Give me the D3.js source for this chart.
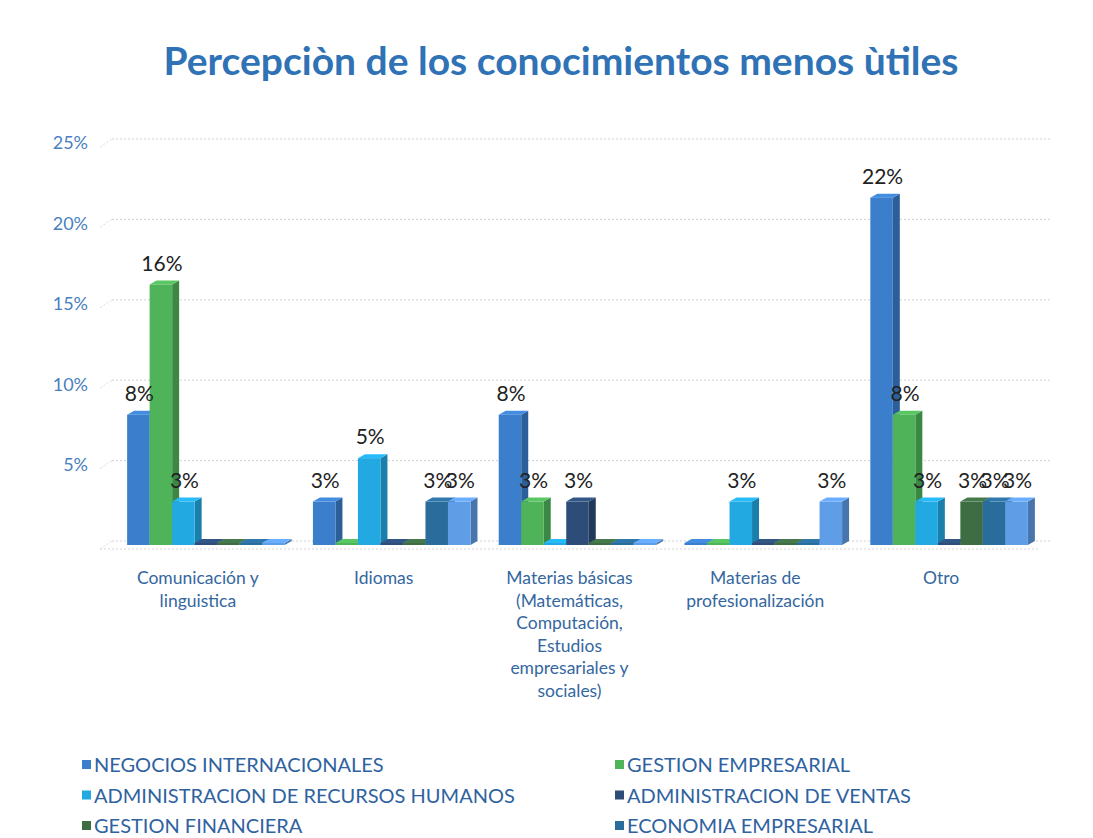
<!DOCTYPE html>
<html>
<head>
<meta charset="utf-8">
<script src="https://cdn.jsdelivr.net/npm/d3@7"></script>
<style>
  body { margin: 0; background: #fff; }
  svg { display: block; font-family: Lato, "Open Sans", sans-serif; }
</style>
</head>
<body>
<script>
// chart data
var categories = [
    ["Comunicación y", "linguistica"],
    ["Idiomas"],
    ["Materias básicas", "(Matemáticas,", "Computación,", "Estudios", "empresariales y", "sociales)"],
    ["Materias de", "profesionalización"],
    ["Otro"]
];
var seriesNames = [
    "NEGOCIOS INTERNACIONALES",
    "GESTION EMPRESARIAL",
    "ADMINISTRACION DE RECURSOS HUMANOS",
    "ADMINISTRACION DE VENTAS",
    "GESTION FINANCIERA",
    "ECONOMIA EMPRESARIAL",
    "OTRA"
];
var seriesColors = ["#3b7ecb", "#4fb35a", "#22a9e2", "#2d4d78", "#3f6d43", "#2a6c9c", "#5f9de6"];
// values per series, one per category (fraction)
var values = [
    [0.081, 0.027, 0.081, 0.000, 0.216],
    [0.162, 0.000, 0.027, 0.000, 0.081],
    [0.027, 0.054, 0.000, 0.027, 0.027],
    [0.000, 0.000, 0.027, 0.000, 0.000],
    [0.000, 0.000, 0.000, 0.000, 0.027],
    [0.000, 0.027, 0.000, 0.000, 0.027],
    [0.000, 0.027, 0.000, 0.027, 0.027]
];
var yTicks = [0.05, 0.10, 0.15, 0.20, 0.25];

window.onload = function(){
    var width = 1093,
        height = 838;

    var svg = d3.select("body")
        .append("svg")
        .attr("width", width)
        .attr("height", height);

    var x0 = d3.scaleBand()
        .domain(d3.range(categories.length))
        .range([113, 1042])
        .paddingInner(0.152)
        .paddingOuter(0.076);

    var x1 = d3.scaleBand()
        .domain(d3.range(seriesNames.length))
        .range([0, x0.bandwidth()]);

    var y = d3.scaleLinear()
        .domain([0, 0.25])
        .range([545, 143]);

    var depthX = 7, depthY = 4;

    //title
    svg.append("text")
        .attr("x", 561)
        .attr("y", 75)
        .attr("text-anchor", "middle")
        .attr("font-size", 39)
        .attr("font-weight", "bold")
        .attr("fill", "#2f72b5")
        .text("Percepciòn de los conocimientos menos ùtiles");

    //gridlines (back wall)
    var grid = svg.append("g");
    yTicks.concat([0]).forEach(function(t){
        var gy = y(t) - depthY;
        grid.append("line")
            .attr("x1", 112).attr("x2", 1052)
            .attr("y1", gy).attr("y2", gy)
            .attr("stroke", "#cfcfcf")
            .attr("stroke-dasharray", "2,2");
        grid.append("line")
            .attr("x1", 100).attr("x2", 112)
            .attr("y1", gy + 8).attr("y2", gy)
            .attr("stroke", "#d9d9d9")
            .attr("stroke-dasharray", "2,2");
    });
    // floor front edge
    grid.append("line")
        .attr("x1", 100).attr("x2", 1040)
        .attr("y1", y(0) + 4).attr("y2", y(0) + 4)
        .attr("stroke", "#d5d5d5")
        .attr("stroke-dasharray", "2,2");

    //y axis labels
    svg.append("g").selectAll("text")
        .data(yTicks)
        .enter()
        .append("text")
        .attr("x", 88)
        .attr("y", function(d){ return y(d); })
        .attr("dy", "0.35em")
        .attr("text-anchor", "end")
        .attr("font-size", 18)
        .attr("fill", "#4a7fbf")
        .text(d3.format(".0%"));

    //bars
    var bars = svg.append("g");
    var labels = svg.append("g");
    categories.forEach(function(cat, ci){
        seriesNames.forEach(function(name, si){
            var v = values[si][ci];
            var bx = x0(ci) + x1(si);
            var bw = x1.bandwidth();
            var top = Math.min(y(v), y(0) - 2);
            var bottom = y(0);
            var c = d3.color(seriesColors[si]);
            var g = bars.append("g").attr("class", "bar");
            // side face
            g.append("path")
                .attr("d", "M" + (bx + bw) + "," + bottom +
                    "L" + (bx + bw + depthX) + "," + (bottom - depthY) +
                    "L" + (bx + bw + depthX) + "," + (top - depthY) +
                    "L" + (bx + bw) + "," + top + "Z")
                .attr("fill", c.darker(0.8));
            // top face
            g.append("path")
                .attr("d", "M" + bx + "," + top +
                    "L" + (bx + depthX) + "," + (top - depthY) +
                    "L" + (bx + bw + depthX) + "," + (top - depthY) +
                    "L" + (bx + bw) + "," + top + "Z")
                .attr("fill", c.brighter(0.3));
            // front face
            g.append("rect")
                .attr("x", bx)
                .attr("y", top)
                .attr("width", bw)
                .attr("height", bottom - top)
                .attr("fill", c);
            if (v > 0){
                labels.append("text")
                    .attr("x", bx + bw / 2 + 1)
                    .attr("y", y(v) - 14)
                    .attr("text-anchor", "middle")
                    .attr("font-size", 21)
                    .attr("fill", "#222")
                    .text(d3.format(".0%")(v));
            }
        });
    });

    //category labels
    var catG = svg.append("g");
    categories.forEach(function(lines, ci){
        var t = catG.append("text")
            .attr("text-anchor", "middle")
            .attr("font-size", 17.5)
            .attr("fill", "#3467a0");
        lines.forEach(function(line, li){
            t.append("tspan")
                .attr("x", x0(ci) + x0.bandwidth() / 2 - 8)
                .attr("y", 584 + li * 22.5)
                .text(line);
        });
    });

    //legend (bottom rows cut off by the frame)
    var legend = svg.append("g").selectAll("g")
        .data(seriesNames.slice(0, 6))
        .enter()
        .append("g")
        .attr("transform", function(d, i){
            return "translate(" + (i % 2 === 0 ? 82 : 615) + "," + (765 + Math.floor(i / 2) * 30.5) + ")";
        });
    legend.append("rect")
        .attr("x", 0).attr("y", -5)
        .attr("width", 9).attr("height", 9)
        .attr("fill", function(d, i){ return seriesColors[i]; });
    legend.append("text")
        .attr("x", 12)
        .attr("dy", "0.35em")
        .attr("font-size", 20)
        .attr("fill", "#2f62a0")
        .text(function(d){ return d; });
};
</script>
</body>
</html>
